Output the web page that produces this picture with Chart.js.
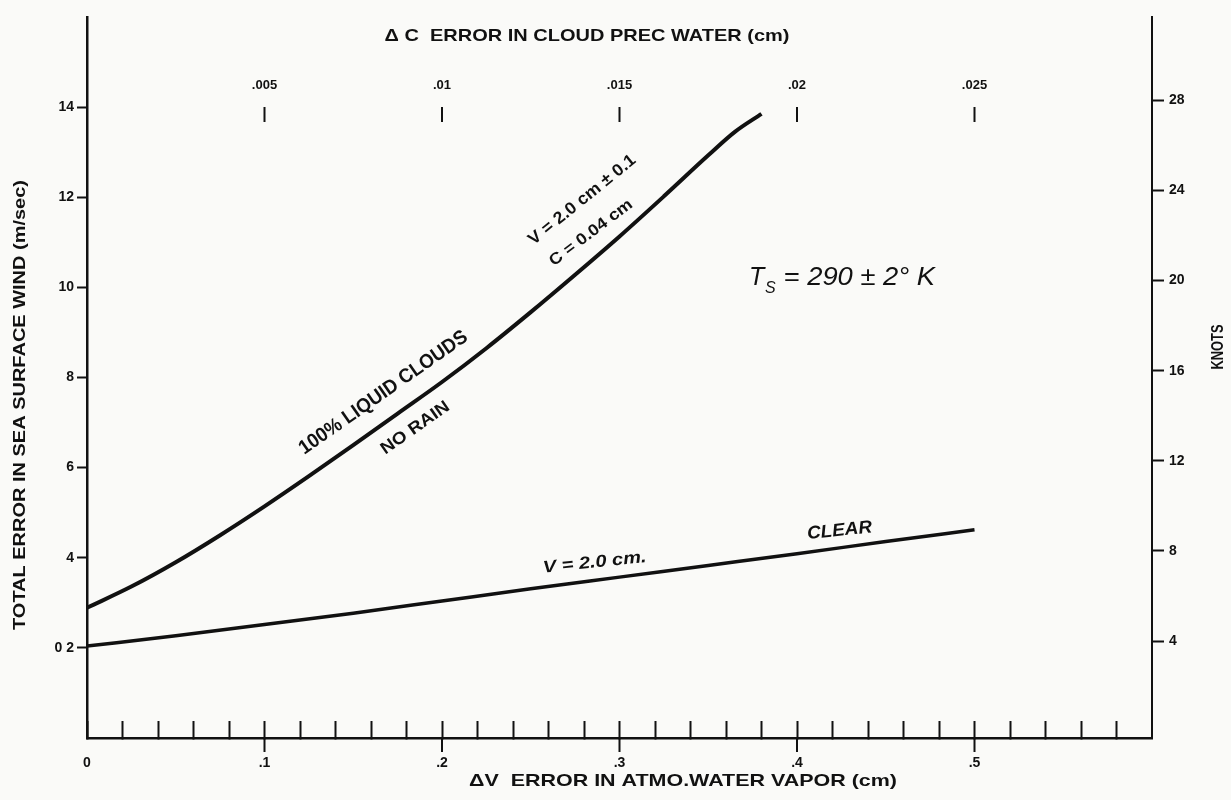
<!DOCTYPE html>
<html>
<head>
<meta charset="utf-8">
<title>Sea surface wind error</title>
<script src="https://cdn.jsdelivr.net/npm/chart.js@4.4.1/dist/chart.umd.min.js"></script>
<style>
  html, body { margin: 0; padding: 0; background: #fafaf8; }
</style>
</head>
<body>
<canvas id="myChart" width="1231" height="800"></canvas>
<script>
// curve: 100% liquid clouds, no rain (V = 2.0 cm +- 0.1, C = 0.04 cm)
var cloudV   = [0, 0.025, 0.05, 0.075, 0.1, 0.125, 0.15, 0.175, 0.2, 0.225, 0.25, 0.275, 0.3, 0.325, 0.35, 0.365, 0.38];
var cloudErr = [2.89, 3.36, 3.90, 4.50, 5.14, 5.81, 6.50, 7.20, 7.90, 8.65, 9.45, 10.28, 11.13, 12.02, 12.93, 13.45, 13.85];

// clear sky, V = 2.0 cm
var clearV   = [0, 0.05, 0.1, 0.15, 0.2, 0.25, 0.3, 0.35, 0.4, 0.45, 0.5];
var clearErr = [2.04, 2.27, 2.52, 2.77, 3.04, 3.31, 3.57, 3.83, 4.09, 4.36, 4.62];

// axis ticks
var vaporTicks = [0, 0.02, 0.04, 0.06, 0.08, 0.1, 0.12, 0.14, 0.16, 0.18, 0.2, 0.22, 0.24, 0.26, 0.28,
                  0.3, 0.32, 0.34, 0.36, 0.38, 0.4, 0.42, 0.44, 0.46, 0.48, 0.5, 0.52, 0.54, 0.56, 0.58];
var vaporLabelValues = [0, 0.1, 0.2, 0.3, 0.4, 0.5];
var vaporLabels = ['0', '.1', '.2', '.3', '.4', '.5'];
var cloudWaterTicks = [0.005, 0.01, 0.015, 0.02, 0.025];
var cloudWaterLabels = ['.005', '.01', '.015', '.02', '.025'];
var windTicks = [2, 4, 6, 8, 10, 12, 14];
var windLabels = ['0 2', '4', '6', '8', '10', '12', '14'];
var knotTicks = [4, 8, 12, 16, 20, 24, 28];

var FONT = "'Liberation Sans', Arial, sans-serif";
var INK = '#111';

function toPoints(xs, ys) {
    return xs.map(function (x, i) { return { x: x, y: ys[i] }; });
}

function labelFor(values, labels, v) {
    for (var i = 0; i < values.length; i++) {
        if (Math.abs(values[i] - v) < 1e-9) return labels[i];
    }
    return '';
}

function setTicks(list) {
    return function (scale) {
        scale.ticks = list.map(function (v) { return { value: v }; });
    };
}

// draws centred text, optionally rotated and squeezed to a given width
function drawLabel(ctx, text, x, y, font, angle, width) {
    ctx.save();
    ctx.translate(x, y);
    ctx.rotate((angle || 0) * Math.PI / 180);
    ctx.font = font;
    var w = ctx.measureText(text).width;
    if (width) ctx.scale(width / w, 1);
    ctx.textAlign = 'center';
    ctx.textBaseline = 'middle';
    ctx.fillStyle = INK;
    ctx.fillText(text, 0, 0);
    ctx.restore();
}

var annotations = [
    { text: '100% LIQUID CLOUDS', v: 0.167, e: 7.66, angle: -35, width: 201, font: 'bold 20px ' + FONT },
    { text: 'NO RAIN', v: 0.185, e: 6.88, angle: -35, width: 80, font: 'bold 17px ' + FONT },
    { text: 'V = 2.0 cm \u00B1 0.1', v: 0.279, e: 11.94, angle: -39, width: 133, font: 'bold 17px ' + FONT },
    { text: 'C = 0.04 cm', v: 0.284, e: 11.21, angle: -37, width: 100, font: 'bold 16px ' + FONT },
    { text: 'V = 2.0 cm.', v: 0.286, e: 3.89, angle: -6, width: 104, font: 'italic bold 17px ' + FONT },
    { text: 'CLEAR', v: 0.424, e: 4.6, angle: -6, width: 65, font: 'italic bold 18px ' + FONT }
];

var decorations = {
    id: 'decorations',
    afterDraw: function (chart) {
        var ctx = chart.ctx;
        var x = chart.scales.x, x2 = chart.scales.x2, y = chart.scales.y;
        var area = chart.chartArea;

        ctx.save();
        ctx.strokeStyle = INK;
        ctx.lineWidth = 2;

        // top scale (delta C) tick marks and labels
        cloudWaterTicks.forEach(function (v, i) {
            var px = x2.getPixelForValue(v);
            ctx.beginPath();
            ctx.moveTo(px, 107);
            ctx.lineTo(px, 122);
            ctx.stroke();
            drawLabel(ctx, cloudWaterLabels[i], px, 85, 'bold 13px ' + FONT);
        });

        // major ticks on the bottom axis also reach below the line
        vaporLabelValues.forEach(function (v) {
            if (v === 0) return;
            var px = x.getPixelForValue(v);
            ctx.beginPath();
            ctx.moveTo(px, area.bottom);
            ctx.lineTo(px, area.bottom + 14);
            ctx.stroke();
        });
        ctx.restore();

        // axis titles
        drawLabel(ctx, '\u0394 C  ERROR IN CLOUD PREC WATER (cm)', 587, 36, 'bold 17px ' + FONT, 0, 405);
        drawLabel(ctx, '\u0394V  ERROR IN ATMO.WATER VAPOR (cm)', 683, 781, 'bold 17px ' + FONT, 0, 428);
        drawLabel(ctx, 'TOTAL ERROR IN SEA SURFACE WIND (m/sec)', 20, 405, 'bold 17px ' + FONT, -90, 450);
        drawLabel(ctx, 'KNOTS', 1219, 347, 'bold 16px ' + FONT, -90, 45);

        // curve annotations
        annotations.forEach(function (a) {
            drawLabel(ctx, a.text, x.getPixelForValue(a.v), y.getPixelForValue(a.e), a.font, a.angle, a.width);
        });

        // T_S = 290 +- 2 K
        ctx.save();
        ctx.fillStyle = INK;
        ctx.textAlign = 'left';
        ctx.textBaseline = 'alphabetic';
        ctx.font = 'italic 25px ' + FONT;
        ctx.fillText('T', 749, 285);
        ctx.font = 'italic 16px ' + FONT;
        ctx.fillText('S', 765, 293);
        ctx.font = 'italic 25px ' + FONT;
        var rest = ' = 290 \u00B1 2\u00B0 K';
        var w = ctx.measureText(rest).width;
        ctx.translate(776, 285);
        ctx.scale(159 / w, 1);
        ctx.fillText(rest, 0, 0);
        ctx.restore();
    }
};

var ctx = document.getElementById('myChart').getContext('2d');
var myChart = new Chart(ctx, {
    type: 'line',
    data: {
        datasets: [{
            label: '100% liquid clouds, no rain',
            data: toPoints(cloudV, cloudErr),
            borderColor: INK,
            borderWidth: 4,
            pointRadius: 0,
            cubicInterpolationMode: 'monotone',
            fill: false
        }, {
            label: 'Clear',
            data: toPoints(clearV, clearErr),
            borderColor: INK,
            borderWidth: 3.5,
            pointRadius: 0,
            cubicInterpolationMode: 'monotone',
            fill: false
        }]
    },
    options: {
        responsive: false,
        animation: false,
        layout: { padding: { top: 17, left: 0, right: 0, bottom: 0 } },
        plugins: {
            legend: { display: false },
            tooltip: { enabled: false }
        },
        scales: {
            x: {
                type: 'linear',
                position: 'bottom',
                min: 0,
                max: 0.6,
                afterBuildTicks: setTicks(vaporTicks),
                afterFit: function (scale) { scale.height = 62; },
                border: { display: true, color: INK, width: 2.5 },
                grid: { drawOnChartArea: false, drawTicks: true, tickLength: -17, color: INK, tickWidth: 2 },
                ticks: {
                    autoSkip: false,
                    maxRotation: 0,
                    padding: 34,
                    color: INK,
                    font: { family: FONT, size: 14, weight: 'bold' },
                    callback: function (value) { return labelFor(vaporLabelValues, vaporLabels, value); }
                }
            },
            x2: {
                type: 'linear',
                position: 'top',
                display: false,
                min: 0,
                max: 0.03
            },
            y: {
                type: 'linear',
                position: 'left',
                min: 0,
                max: 16,
                afterBuildTicks: setTicks(windTicks),
                afterFit: function (scale) { scale.width = 87; },
                border: { display: true, color: INK, width: 2.5 },
                grid: { drawOnChartArea: false, drawTicks: true, tickLength: 10, color: INK, tickWidth: 2 },
                ticks: {
                    padding: 3,
                    color: INK,
                    font: { family: FONT, size: 14, weight: 'bold' },
                    callback: function (value) { return labelFor(windTicks, windLabels, value); }
                }
            },
            y2: {
                type: 'linear',
                position: 'right',
                min: -0.3,
                max: 31.7,
                afterBuildTicks: setTicks(knotTicks),
                afterFit: function (scale) { scale.width = 79; },
                border: { display: true, color: INK, width: 2 },
                grid: { drawOnChartArea: false, drawTicks: true, tickLength: 12, color: INK, tickWidth: 2 },
                ticks: {
                    padding: 5,
                    color: INK,
                    font: { family: FONT, size: 14, weight: 'bold' },
                    callback: function (value) { return String(value); }
                }
            }
        }
    },
    plugins: [decorations]
});
</script>
</body>
</html>
